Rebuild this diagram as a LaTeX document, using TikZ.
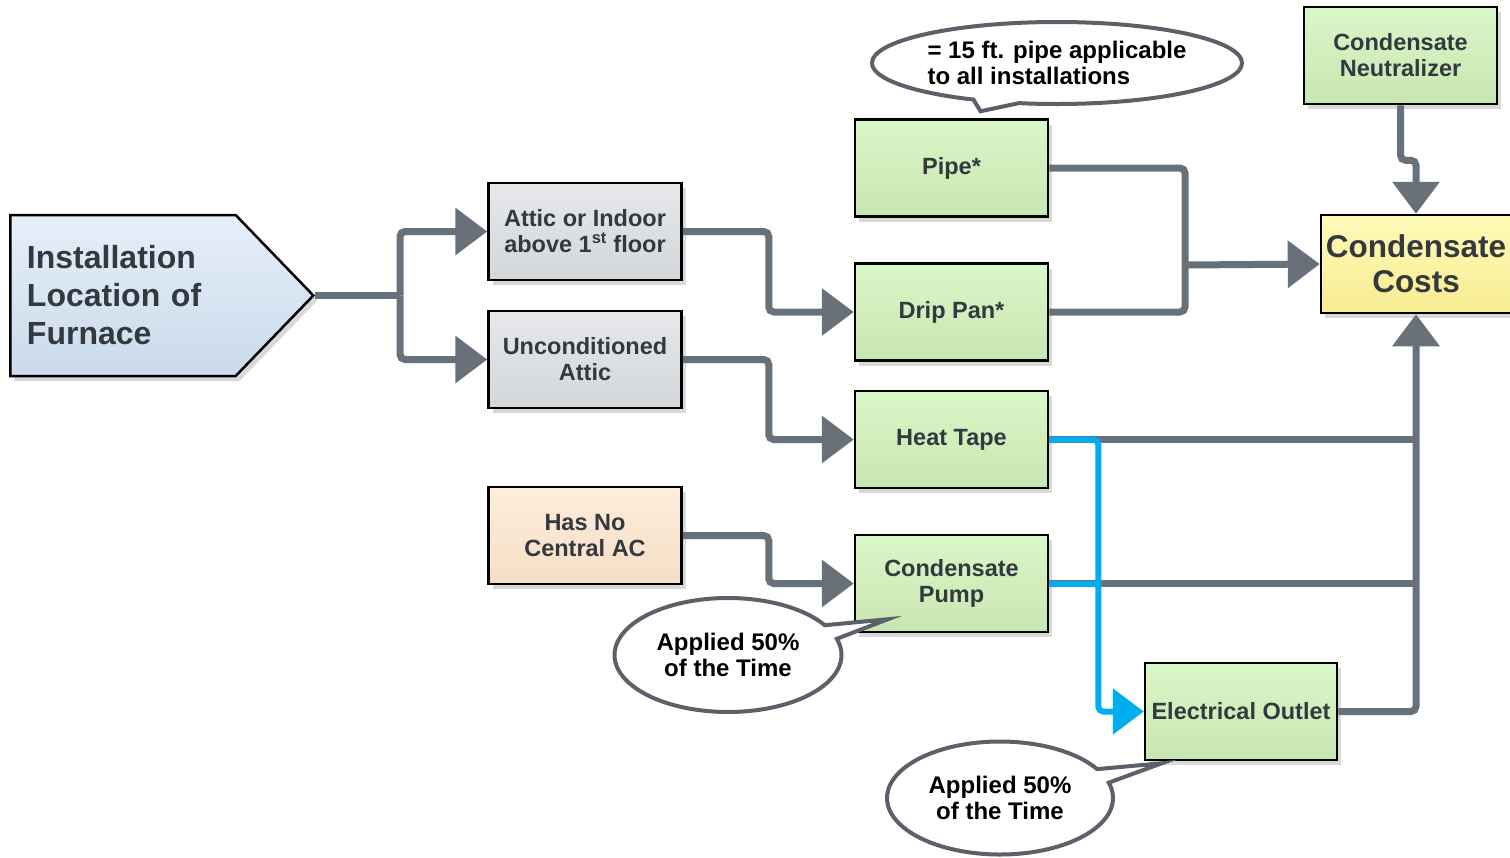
\documentclass[tikz,border=0pt]{standalone}
\usepackage{fontspec}
\setmainfont{Liberation Sans}
\usetikzlibrary{arrows.meta,shapes.symbols,shapes.callouts,shadows,calc}

\definecolor{linegray}{HTML}{68707A}
\definecolor{textgray}{HTML}{33393F}
\definecolor{notegray}{HTML}{5B6168}
\definecolor{wireblue}{HTML}{00AEEF}
\definecolor{greentop}{HTML}{DBF6C8}
\definecolor{greenbot}{HTML}{C8E6B1}
\definecolor{graytop}{HTML}{E6E8EB}
\definecolor{graybot}{HTML}{D3D6DA}
\definecolor{peachtop}{HTML}{FDEDDC}
\definecolor{peachbot}{HTML}{F5DEC5}
\definecolor{bluetop}{HTML}{E6EFF9}
\definecolor{bluebot}{HTML}{CADAEB}
\definecolor{yellowtop}{HTML}{FFFAB8}
\definecolor{yellowbot}{HTML}{F7EC92}

\tikzset{
  box/.style={draw=black, line width=2.5pt, minimum width=193, minimum height=97,
    align=center, text=textgray, font=\bfseries\fontsize{23.5}{26}\selectfont,
    drop shadow={shadow xshift=4pt, shadow yshift=-5pt, opacity=0.3}},
  greenbox/.style={box, top color=greentop, bottom color=greenbot},
  graybox/.style={box, top color=graytop, bottom color=graybot},
  peachbox/.style={box, top color=peachtop, bottom color=peachbot},
  costbox/.style={box, top color=yellowtop, bottom color=yellowbot,
    font=\bfseries\fontsize{31.5}{35}\selectfont},
  flow/.style={draw=linegray, line width=7pt, rounded corners=5pt},
  flowarrow/.style={flow, -{Triangle[length=32pt,width=46pt]}},
  wire/.style={draw=wireblue, line width=6pt, rounded corners=5pt},
  wirearrow/.style={wire, -{Triangle[length=31pt,width=45pt]}},
  note/.style={ellipse callout, draw=notegray, line width=4pt, fill=white,
    text=black, font=\bfseries\fontsize{24}{26}\selectfont, align=center,
    inner sep=0pt}
}

\begin{document}
\begin{tikzpicture}[x=1pt,y=-1pt]
  \useasboundingbox (0,0) rectangle (1510,857);
        % Boxes:
        \node[signal, signal to=east, signal pointer angle=92, draw=black, line width=2.5pt,
          top color=bluetop, bottom color=bluebot, minimum width=303, minimum height=161,
          text width=192, align=left, text=textgray, font=\bfseries\fontsize{32}{38}\selectfont,
          drop shadow={shadow xshift=4pt, shadow yshift=-5pt, opacity=0.3}]
          (furnace) at (123,295.5) {Installation\\Location of\\Furnace};
        \node[graybox] (attic) at (585,231.5) {Attic or Indoor\\above 1\textsuperscript{st} floor};
        \node[graybox] (uncond) at (585,359.5) {Unconditioned\\Attic};
        \node[peachbox] (noac) at (585,535.5) {Has No\\Central AC};
        \node[greenbox] (pipe) at (951.5,168) {Pipe*};
        \node[greenbox] (drip) at (951.5,312) {Drip Pan*};
        \node[greenbox] (heat) at (951.5,439.5) {Heat Tape};
        \node[greenbox] (pump) at (951.5,583.5) {Condensate\\Pump};
        \node[greenbox, minimum width=192] (outlet) at (1241,711.5) {Electrical Outlet};
        \node[greenbox] (neut) at (1400.5,55.5) {Condensate\\Neutralizer};
        \node[costbox, minimum width=190, minimum height=98] (costs) at (1416,264) {Condensate\\Costs};
        %
        % Flow Edges:
        \coordinate (jF) at (400,295.5);
        \coordinate (jPD) at (1185,265);
        \draw[flow] (furnace.east) -- (jF);
        \draw[flowarrow] (jF) |- (attic.west);
        \draw[flowarrow] (jF) |- (uncond.west);
        \draw[flowarrow] (attic.east) -- ++(86,0) |- (drip.west);
        \draw[flowarrow] (uncond.east) -- ++(86,0) |- (heat.west);
        \draw[flowarrow] (noac.east) -- ++(86,0) |- (pump.west);
        \draw[flow] (pipe.east) -| (jPD);
        \draw[flow] (drip.east) -| (jPD);
        \draw[flowarrow] (jPD) -- (costs.west);
        \draw[flowarrow] (neut.south) -- ++(0,55) -| (costs.north);
        \draw[flow] (heat.east) -- (heat.east -| costs.south);
        \draw[flow] (pump.east) -- (pump.east -| costs.south);
        \draw[flowarrow] (outlet.east) -| (costs.south);
        % wiring for the outlet
        \draw[wire] (pump.east) -- ++(49,0);
        \draw[wirearrow] (heat.east) -- ++(49,0) |- (outlet.west);
        %
        % Notes:
        \node[note, align=left, minimum width=370, minimum height=82,
          callout absolute pointer={($(pipe.north)+(29,-7)$)}]
          (pipenote) at (1057,63) {= 15 ft. pipe applicable\\to all installations};
        \node[note, minimum width=227, minimum height=114,
          callout absolute pointer={($(pump.south west)+(34,-14)$)}]
          (pumpnote) at (728,655) {Applied 50\%\\of the Time};
        \node[note, minimum width=226, minimum height=113,
          callout absolute pointer={($(outlet.south west)+(18,2)$)}]
          (outletnote) at (1000,798) {Applied 50\%\\of the Time};
\end{tikzpicture}
\end{document}
